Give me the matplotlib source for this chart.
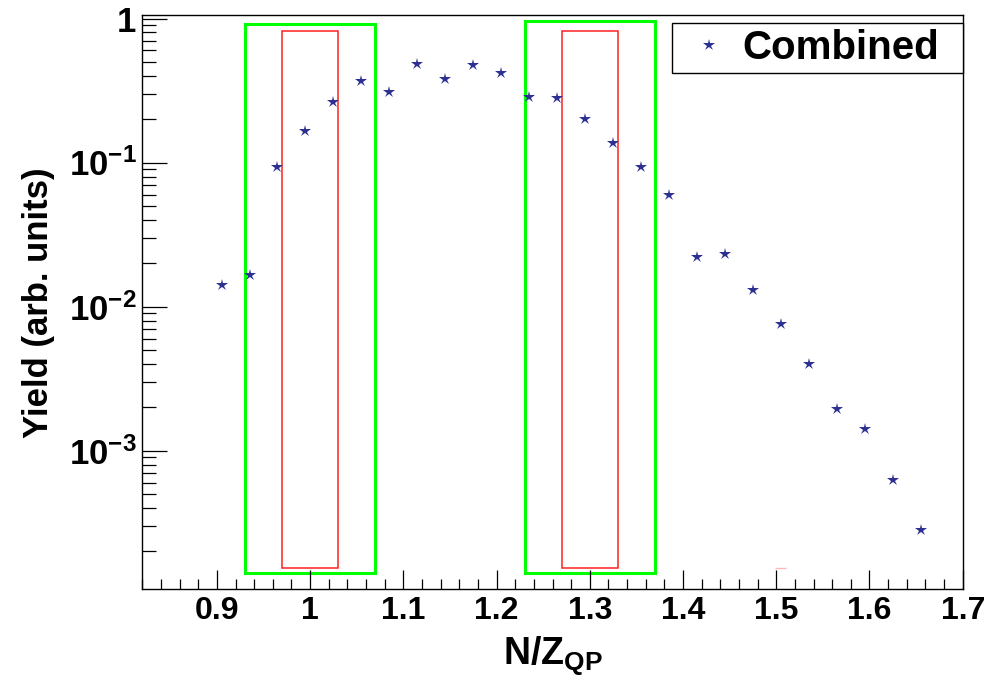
import numpy as np
import matplotlib
matplotlib.use('Agg')
import matplotlib.pyplot as plt
from matplotlib.patches import Rectangle
from matplotlib.ticker import MultipleLocator, LogLocator, FuncFormatter, NullFormatter

# [DATA] ======================================================================
nz_qp = [0.905, 0.935, 0.965, 0.995, 1.025, 1.055, 1.085, 1.115, 1.145,
         1.175, 1.205, 1.235, 1.265, 1.295, 1.325, 1.355, 1.385, 1.415,
         1.445, 1.475, 1.505, 1.535, 1.565, 1.595, 1.625, 1.655]
yield_combined = [0.0141, 0.0166, 0.0935, 0.166, 0.263, 0.368, 0.307, 0.483,
                  0.378, 0.473, 0.416, 0.285, 0.279, 0.200, 0.137, 0.0926,
                  0.0597, 0.0221, 0.0233, 0.0130, 0.00752, 0.00397, 0.00193,
                  0.00142, 0.000624, 0.000281]

# selection windows (x0, x1, y_bottom, y_top)
green_windows = [(0.93, 1.07, 1.41e-4, 0.916), (1.23, 1.37, 1.41e-4, 0.96)]
red_windows = [(0.97, 1.03, 1.53e-4, 0.815), (1.27, 1.33, 1.53e-4, 0.815)]
# [END DATA] ==================================================================

plt.rcParams['font.family'] = ['Liberation Sans', 'DejaVu Sans']
plt.rcParams['font.weight'] = 'bold'
plt.rcParams['mathtext.fontset'] = 'custom'
plt.rcParams['mathtext.rm'] = 'Liberation Sans:bold'
plt.rcParams['mathtext.bf'] = 'Liberation Sans:bold'
plt.rcParams['mathtext.it'] = 'Liberation Sans:bold'

fig = plt.figure(figsize=(9.89, 6.81), dpi=100)
ax = fig.add_axes([0.1439, 0.1347, 0.8295, 0.8426])

for x0, x1, y0, y1 in green_windows:
    ax.add_patch(Rectangle((x0, y0), x1 - x0, y1 - y0, fill=False,
                           edgecolor='#00ff00', linewidth=2.2, joinstyle='miter'))
for x0, x1, y0, y1 in red_windows:
    ax.add_patch(Rectangle((x0, y0), x1 - x0, y1 - y0, fill=False,
                           edgecolor='#ff2020', linewidth=1.1, joinstyle='miter'))
# faint leftover mark near 1.5
ax.hlines(1.53e-4, 1.499, 1.511, color='#ffb8b8', linewidth=1.0)

ax.plot(nz_qp, yield_combined, linestyle='none', marker='*', markersize=9,
        color='#2c3090', markeredgewidth=0, label='Combined')

ax.set_yscale('log')
ax.set_xlim(0.82, 1.7)
ax.set_ylim(1.09e-4, 1.05)

ax.xaxis.set_major_locator(MultipleLocator(0.1))
ax.xaxis.set_minor_locator(MultipleLocator(0.02))
ax.xaxis.set_major_formatter(FuncFormatter(lambda v, p: '%g' % round(v, 2)))
ax.yaxis.set_major_locator(LogLocator(base=10))
ax.yaxis.set_minor_locator(LogLocator(base=10, subs=np.arange(2, 10)))
ax.yaxis.set_minor_formatter(NullFormatter())


def ylab(v, p):
    e = int(round(np.log10(v)))
    if e == 0:
        return r'$\mathbf{1}$'
    return r'$\mathbf{10^{%d}}$' % e


ax.yaxis.set_major_formatter(FuncFormatter(ylab))

ax.tick_params(axis='x', which='major', direction='in', length=14, width=0.9,
               labelsize=23, pad=5, top=False)
ax.tick_params(axis='x', which='minor', direction='in', length=7, width=0.9, top=False)
ax.tick_params(axis='y', which='major', direction='in', length=18, width=0.9,
               labelsize=25, pad=4, right=False)
ax.tick_params(axis='y', which='minor', direction='in', length=10, width=0.9, right=False)
for s in ax.spines.values():
    s.set_linewidth(1.0)

ax.set_xlabel(r'$\mathbf{N/Z_{QP}}$', fontsize=27, labelpad=6)
ax.set_ylabel('Yield (arb. units)', fontsize=25, fontweight='bold', labelpad=10)

leg = ax.legend(loc='upper left', bbox_to_anchor=(0.646, 0.899, 0.354, 0.0874),
                mode='expand', borderaxespad=0, fontsize=29, borderpad=0.14,
                handlelength=1.55, handletextpad=0.05, fancybox=False,
                framealpha=1, edgecolor='black', markerscale=1.0)
leg.get_frame().set_linewidth(1.0)

fig.savefig('out.png', dpi=100)
